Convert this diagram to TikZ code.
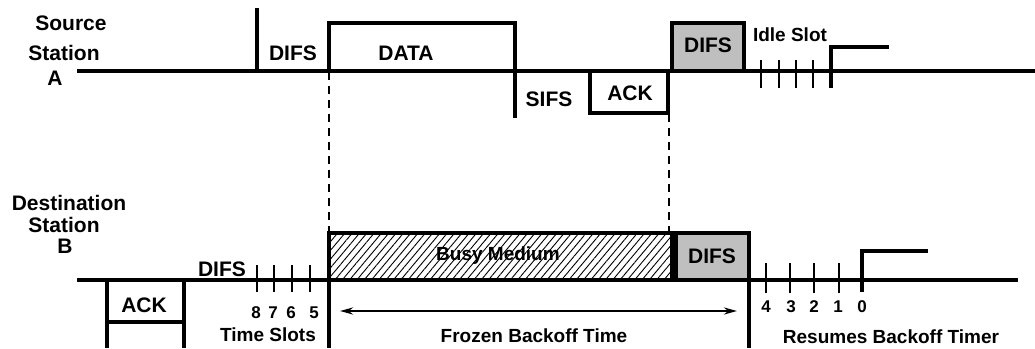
\documentclass[tikz,border=0pt]{standalone}
\usepackage{fontspec}
\setmainfont{Liberation Sans}
\usetikzlibrary{arrows.meta,patterns.meta}
\begin{document}
\begin{tikzpicture}[x=1pt,y=-1pt,
  main/.style={line width=3.2pt, line join=miter},
  tick/.style={line width=1.1pt},
  dashline/.style={line width=2.5pt, dash pattern=on 8pt off 6pt},
  big/.style={font=\fontsize{21}{22}\selectfont\bfseries, inner sep=0pt},
  small/.style={font=\fontsize{19}{20}\selectfont\bfseries, inner sep=0pt},
  digit/.style={font=\fontsize{17}{18}\selectfont\bfseries, inner sep=0pt},
  greybox/.style={main, fill=gray!50}]
\useasboundingbox (0,0) rectangle (1035,348);

% ---- Source station A ----
\node[big] (srcA1) at (71,23) {Source};
\node[big] (srcA2) at (64,53) {Station};
\node[big] (srcA3) at (55,78) {A};

\draw[main] (77,71) -- (1035,71);
\draw[main] (257,8) -- (257,71);
\draw[main] (329,71) -- (329,23) -- (515,23) -- (515,118);
\draw[main] (590,71) rectangle (668,113);
\filldraw[greybox] (672,23) rectangle (744,71);
\foreach \x in {761,779,796,813} \draw[tick] (\x,60) -- (\x,88);
\draw[main] (831,88) -- (831,47) -- (889,47);

\node[big] (difsA) at (293,53) {DIFS};
\node[big] (data) at (406,53) {DATA};
\node[big] (sifs) at (549,99) {SIFS};
\node[big] (ackA) at (630,93) {ACK};
\node[big] (difsA2) at (708,45) {DIFS};
\node[small] (idle) at (790,35) {Idle Slot};

% ---- dashed guides ----
\draw[dashline] (329,72) -- (329,233);
\draw[dashline] (669,114) -- (669,233);

% ---- Destination station B ----
\node[big] (dst1) at (69,203) {Destination};
\node[big] (dst2) at (64,225) {Station};
\node[big] (dst3) at (65,246) {B};

\draw[main] (77,280) -- (1018,280);
\draw[main] (107,348) -- (107,280);
\draw[main] (184,280) -- (184,348);
\draw[main] (107,322) -- (184,322);
\node[big] (ackB) at (144,305) {ACK};

\node[big] (difsB) at (222,269) {DIFS};
\foreach \x in {257,274,292,310} \draw[tick] (\x,265) -- (\x,292);
\node[digit] (d8) at (256,313) {8};
\node[digit] (d7) at (273,313) {7};
\node[digit] (d6) at (291,313) {6};
\node[digit] (d5) at (314,313) {5};
\node[small] (ts) at (268,335) {Time Slots};

\draw[main, pattern={Lines[angle=50,distance=5.6pt,line width=0.9pt]}] (329,233) rectangle (672,280);
\draw[main] (329,280) -- (329,348);
\node[small] (busy) at (498,256) {Busy Medium};

\filldraw[greybox] (676,233) rectangle (749,280);
\node[big] (difsB2) at (712,256) {DIFS};
\draw[main] (749,280) -- (749,348);

\foreach \x in {766,790,814,839} \draw[tick] (\x,263) -- (\x,293);
\draw[main] (862,292) -- (862,251) -- (928,251);
\node[digit] (r4) at (766,307) {4};
\node[digit] (r3) at (791,307) {3};
\node[digit] (r2) at (814,307) {2};
\node[digit] (r1) at (838,307) {1};
\node[digit] (r0) at (862,307) {0};
\node[small] (res) at (891,337) {Resumes Backoff Timer};

\coordinate (arL) at (340,311);
\coordinate (arR) at (737,311);
\draw[line width=2.4pt, {Stealth[length=13pt,width=7pt]}-{Stealth[length=13pt,width=7pt]}] (arL) -- (arR);
\node[small] (frozen) at (534,336) {Frozen Backoff Time};
\end{tikzpicture}
\end{document}
